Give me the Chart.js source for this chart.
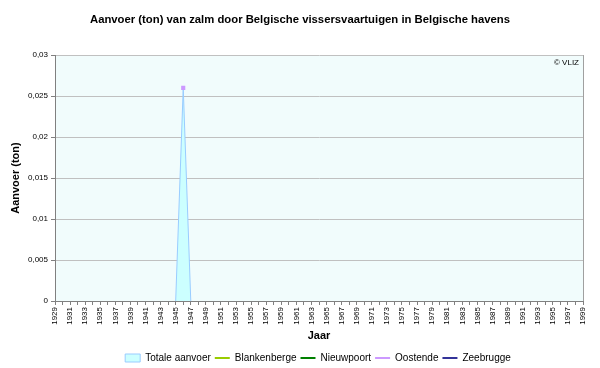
<!DOCTYPE html>
<html>
<head>
<meta charset="utf-8">
<script src="https://cdn.jsdelivr.net/npm/chart.js@4"></script>
<style>
    html, body { margin: 0; padding: 0; background: #fff; }
    #wrap { width: 600px; height: 368px; }
</style>
</head>
<body>
<div id="wrap"><canvas id="chart" width="600" height="368"></canvas></div>
<script>
const years = [];
for (let y = 1929; y <= 1999; y++) years.push(String(y));

// values (ton)
const totaleAanvoer = [{ x: '1945', y: 0 }, { x: '1946', y: 0.026 }, { x: '1947', y: 0 }];
const blankenberge = [];
const nieuwpoort = [];
const oostende = [{ x: '1946', y: 0.026 }];
const zeebrugge = [];

const yTicks = [0, 0.005, 0.01, 0.015, 0.02, 0.025, 0.03];

const FONT = "'Liberation Sans', Arial, sans-serif";

const plotDecor = {
    id: 'plotDecor',
    afterLayout(chart) {
        // legend sits a bit right of centre and low in the original
        const lg = chart.legend;
        if (lg) {
            lg.left += 18; lg.right += 18;
            lg.top += 5; lg.bottom += 5;
        }
    },
    beforeDraw(chart) {
        const { ctx, chartArea: a } = chart;
        ctx.save();
        ctx.fillStyle = '#f1fcfc';
        ctx.fillRect(a.left, a.top, a.right - a.left, a.bottom - a.top);
        ctx.restore();
    },
    afterDraw(chart) {
        const { ctx, chartArea: a } = chart;
        ctx.save();
        ctx.strokeStyle = '#a0a0a0';
        ctx.lineWidth = 1;
        ctx.beginPath();
        ctx.moveTo(Math.round(a.right) + 0.5, a.top);
        ctx.lineTo(Math.round(a.right) + 0.5, a.bottom);
        ctx.stroke();
        ctx.fillStyle = '#000';
        ctx.font = '8px ' + FONT;
        ctx.textAlign = 'right';
        ctx.textBaseline = 'top';
        ctx.fillText('© VLIZ', a.right - 4, a.top + 4);
        ctx.restore();
    }
};

new Chart(document.getElementById('chart'), {
    type: 'line',
    data: {
        labels: years,
        datasets: [
            { label: 'Totale aanvoer', data: totaleAanvoer, fill: 'origin', backgroundColor: '#ccffff',
              borderColor: '#99ccff', borderWidth: 1, pointRadius: 0, tension: 0, order: 5 },
            { label: 'Blankenberge', data: blankenberge, borderColor: '#99cc00', backgroundColor: '#99cc00',
              borderWidth: 2, pointRadius: 0 },
            { label: 'Nieuwpoort', data: nieuwpoort, borderColor: '#008000', backgroundColor: '#008000',
              borderWidth: 2, pointRadius: 0 },
            { label: 'Oostende', data: oostende, borderColor: '#cc99ff', backgroundColor: '#cc99ff',
              borderWidth: 2, pointRadius: 1.5, pointStyle: 'rect' },
            { label: 'Zeebrugge', data: zeebrugge, borderColor: '#333399', backgroundColor: '#333399',
              borderWidth: 2, pointRadius: 0 }
        ]
    },
    options: {
        responsive: false,
        animation: false,
        layout: { padding: { left: 0, right: 0, top: 0, bottom: 0 } },
        plugins: {
            title: {
                display: true,
                text: 'Aanvoer (ton) van zalm door Belgische vissersvaartuigen in Belgische havens',
                color: '#000',
                font: { family: FONT, size: 11.3, weight: 'bold' },
                padding: { top: 13, bottom: 28.5 }
            },
            legend: {
                position: 'bottom',
                labels: {
                    color: '#000',
                    font: { family: FONT, size: 10 },
                    usePointStyle: true,
                    pointStyleWidth: 15,
                    boxHeight: 8,
                    padding: 4,
                    sort: (a, b) => a.datasetIndex - b.datasetIndex,
                    generateLabels(chart) {
                        const items = Chart.defaults.plugins.legend.labels.generateLabels(chart);
                        items.forEach(it => {
                            if (it.datasetIndex === 0) {
                                it.pointStyle = 'rect';
                                it.lineWidth = 1;
                                it.fillStyle = '#ccffff';
                                it.strokeStyle = '#99ccff';
                            } else {
                                it.pointStyle = 'line';
                                it.lineWidth = 2;
                            }
                        });
                        return items;
                    }
                }
            },
            tooltip: { enabled: false }
        },
        scales: {
            x: {
                offset: false,
                grid: { drawOnChartArea: false, drawTicks: true, tickLength: 4, color: '#808080' },
                border: { color: '#808080' },
                ticks: {
                    autoSkip: false,
                    maxRotation: 90,
                    minRotation: 90,
                    padding: 2,
                    color: '#000',
                    font: { family: FONT, size: 8 },
                    callback(value, index) { return index % 2 === 0 ? years[index] : ''; }
                },
                title: {
                    display: true, text: 'Jaar', color: '#000',
                    font: { family: FONT, size: 11, weight: 'bold' },
                    padding: { top: 6, bottom: 1 }
                },
                afterFit(scale) { scale.height = 43; }
            },
            y: {
                min: 0,
                max: 0.03,
                afterBuildTicks(scale) { scale.ticks = yTicks.map(v => ({ value: v })); },
                grid: { color: '#c0c0c0', tickLength: 4, tickColor: '#808080' },
                border: { color: '#808080' },
                ticks: {
                    color: '#000',
                    padding: 3,
                    font: { family: FONT, size: 8 },
                    callback(value) { return String(+value.toFixed(3)).replace('.', ','); }
                },
                title: {
                    display: true, text: 'Aanvoer (ton)', color: '#000',
                    font: { family: FONT, size: 11, weight: 'bold' },
                    padding: { top: 9, bottom: 4 }
                },
                afterFit(scale) { scale.width = 55; }
            },
            yRight: {
                position: 'right',
                display: true,
                grid: { display: false },
                border: { display: false },
                ticks: { display: false },
                afterFit(scale) { scale.width = 17; }
            }
        }
    },
    plugins: [plotDecor]
});
</script>
</body>
</html>
